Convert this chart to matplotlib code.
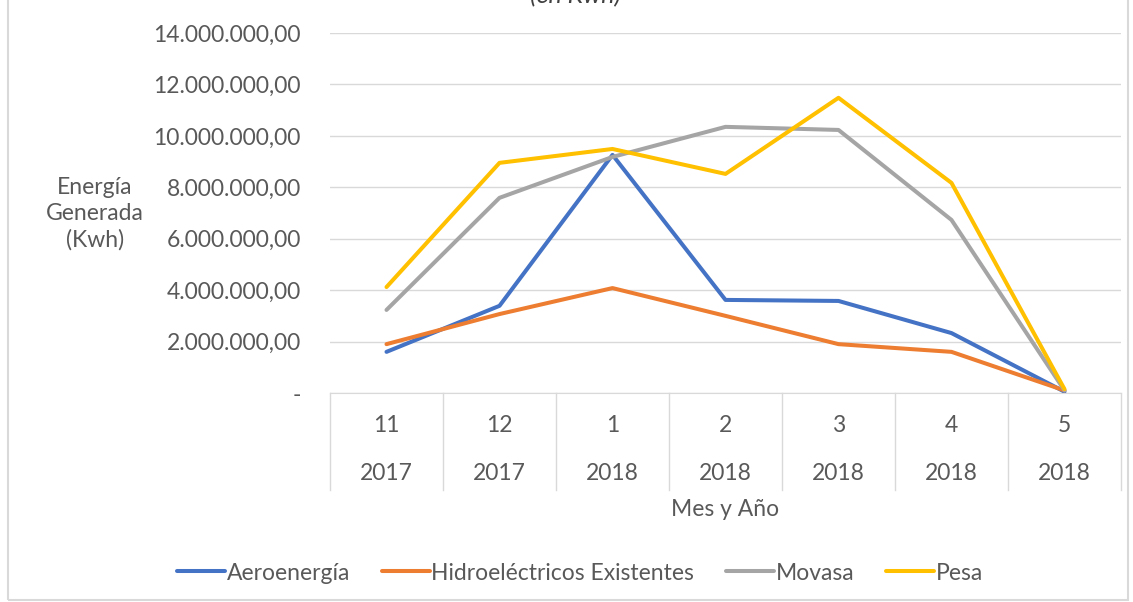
import matplotlib.pyplot as plt
from matplotlib.patches import Rectangle

plt.rcParams['font.family'] = ['Lato', 'DejaVu Sans']

months = ['11', '12', '1', '2', '3', '4', '5']
years = ['2017', '2017', '2018', '2018', '2018', '2018', '2018']

aeroenergia = [1.60e6, 3.39e6, 9.26e6, 3.62e6, 3.58e6, 2.33e6, 0.05e6]
hidro = [1.90e6, 3.07e6, 4.08e6, 3.00e6, 1.90e6, 1.60e6, 0.10e6]
movasa = [3.23e6, 7.59e6, 9.18e6, 10.35e6, 10.23e6, 6.73e6, 0.10e6]
pesa = [4.12e6, 8.95e6, 9.49e6, 8.52e6, 11.48e6, 8.17e6, 0.15e6]

series = [
    ('Aeroenergía', aeroenergia, '#4472C4'),
    ('Hidroeléctricos Existentes', hidro, '#ED7D31'),
    ('Movasa', movasa, '#A5A5A5'),
    ('Pesa', pesa, '#FFC000'),
]

FS = 16.5
TXT = '#595959'

fig = plt.figure(figsize=(11.33, 6.02), dpi=100)
ax = fig.add_axes([330 / 1133, 1 - 393 / 602, 791 / 1133, 360 / 602])

x = list(range(len(months)))
for name, vals, color in series:
    ax.plot(x, vals, color=color, lw=2.9, label=name, solid_capstyle='round',
            solid_joinstyle='round')

ax.set_xlim(-0.5, len(months) - 0.5)
ax.set_ylim(0, 14e6)
yt = [i * 2e6 for i in range(8)]
ax.set_yticks(yt)


def fmt(v):
    if v == 0:
        return '-'
    s = f'{v:,.2f}'
    return s.replace(',', 'X').replace('.', ',').replace('X', '.')


ax.set_yticklabels([fmt(v) for v in yt], fontsize=FS, color=TXT)
ax.tick_params(axis='y', length=0, pad=21)
ax.set_xticks([])
ax.grid(axis='y', color='#D9D9D9', lw=1)
ax.set_axisbelow(True)
for s in ['top', 'right', 'left']:
    ax.spines[s].set_visible(False)
ax.spines['bottom'].set_color('#D9D9D9')

# two-level category axis
tr = ax.get_xaxis_transform()
for i in range(len(months) + 1):
    ax.plot([i - 0.5, i - 0.5], [0, -0.27], transform=tr, color='#D9D9D9',
            lw=1, clip_on=False)
for i, (m, yr) in enumerate(zip(months, years)):
    ax.text(i, -0.089, m, transform=tr, ha='center', va='center',
            fontsize=FS, color=TXT)
    ax.text(i, -0.225, yr, transform=tr, ha='center', va='center',
            fontsize=FS, color=TXT)

fig.text(725 / 1133, 1 - 510 / 602, 'Mes y Año', ha='center', va='center',
         fontsize=FS, color=TXT)
fig.text(95 / 1133, 1 - 214 / 602, 'Energía\nGenerada\n(Kwh)', ha='center',
         va='center', fontsize=FS, color=TXT, linespacing=1.3)
fig.text(575 / 1133, 1.008, '(en Kwh)', ha='center', va='center',
         fontsize=18, style='italic', color='#404040')

fig.legend(loc='center', bbox_to_anchor=(580 / 1133, 1 - 573 / 602), ncol=4,
           frameon=False, fontsize=FS, handlelength=2.1, columnspacing=1.4,
           handletextpad=0.05, labelcolor=TXT)

fig.patches.append(Rectangle((8 / 1133, 2 / 602), 1120 / 1133, 1.1,
                             transform=fig.transFigure, fill=False,
                             edgecolor='#D9D9D9', lw=1.5))

fig.savefig('out.png', dpi=100)
